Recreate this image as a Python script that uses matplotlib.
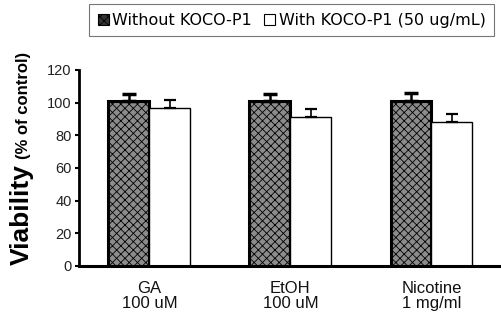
import matplotlib
matplotlib.use("Agg")
import matplotlib.pyplot as plt
from matplotlib.patches import Patch
import numpy as np

plt.rcParams['font.family'] = ['Liberation Sans', 'DejaVu Sans']
plt.rcParams['hatch.color'] = '#2a2a2a'
plt.rcParams['hatch.linewidth'] = 0.6

categories = ["GA\n100 uM", "EtOH\n100 uM", "Nicotine\n1 mg/ml"]
series_names = ["Without KOCO-P1", "With KOCO-P1 (50 ug/mL)"]
without_vals = [101, 101, 101]
without_err = [4.5, 4.5, 5.0]
with_vals = [96.5, 91.3, 88.0]
with_err = [5.0, 5.0, 5.0]
yticks = [0, 20, 40, 60, 80, 100, 120]

fig = plt.figure(figsize=(5.02, 3.25), dpi=100)
ax = fig.add_axes([0.157, 0.182, 0.843, 0.603])

x = np.arange(len(categories))
w = 0.29
ax.bar(x - w/2, without_vals, w, facecolor='#8c8c8c', edgecolor='black',
       linewidth=2.2, hatch='xxxx', zorder=2)
ax.errorbar(x - w/2, without_vals, yerr=[np.zeros(3), without_err], fmt='none',
            ecolor='black', elinewidth=1.8, capsize=5, capthick=2.5, zorder=3)
ax.bar(x + w/2, with_vals, w, facecolor='white', edgecolor='black',
       linewidth=1.0, zorder=2)
ax.errorbar(x + w/2, with_vals, yerr=[np.zeros(3), with_err], fmt='none',
            ecolor='black', elinewidth=1.2, capsize=4.5, capthick=1.6, zorder=3)

ax.set_xlim(-0.5, 2.5)
ax.set_ylim(0, 120)
ax.set_yticks(yticks)
ax.set_yticklabels([str(t) for t in yticks], fontsize=10.5, color='#222222')
ax.set_xticks(x)
ax.set_xticklabels(categories, fontsize=12, linespacing=0.95, color='#111111')
ax.tick_params(axis='x', length=0, pad=11)
ax.tick_params(axis='y', length=3, width=1.5, pad=2, direction='out')
for s in ['top', 'right']:
    ax.spines[s].set_visible(False)
ax.spines['left'].set_linewidth(2.0)
ax.spines['bottom'].set_linewidth(2.2)

fig.text(0.044, 0.186, "Viability", rotation=90, fontsize=19, fontweight='bold',
         ha='center', va='bottom')
fig.text(0.047, 0.51, "(% of control)", rotation=90, fontsize=12, fontweight='bold',
         ha='center', va='bottom')

handles = [Patch(facecolor='#333333', edgecolor='black', hatch='xxxx', linewidth=0.8),
           Patch(facecolor='white', edgecolor='black', linewidth=0.8)]
leg = fig.legend(handles, series_names, loc='upper left', bbox_to_anchor=(0.177, 0.988),
                 ncol=2, frameon=True, fancybox=False,
                 prop={'family': 'DejaVu Sans', 'size': 11.5},
                 handlelength=0.7, handleheight=0.7, handletextpad=0.22,
                 columnspacing=0.75, borderpad=0.55, borderaxespad=0)
leg.get_frame().set_edgecolor('#555555')
leg.get_frame().set_linewidth(0.8)

fig.savefig("out.png", dpi=100)
